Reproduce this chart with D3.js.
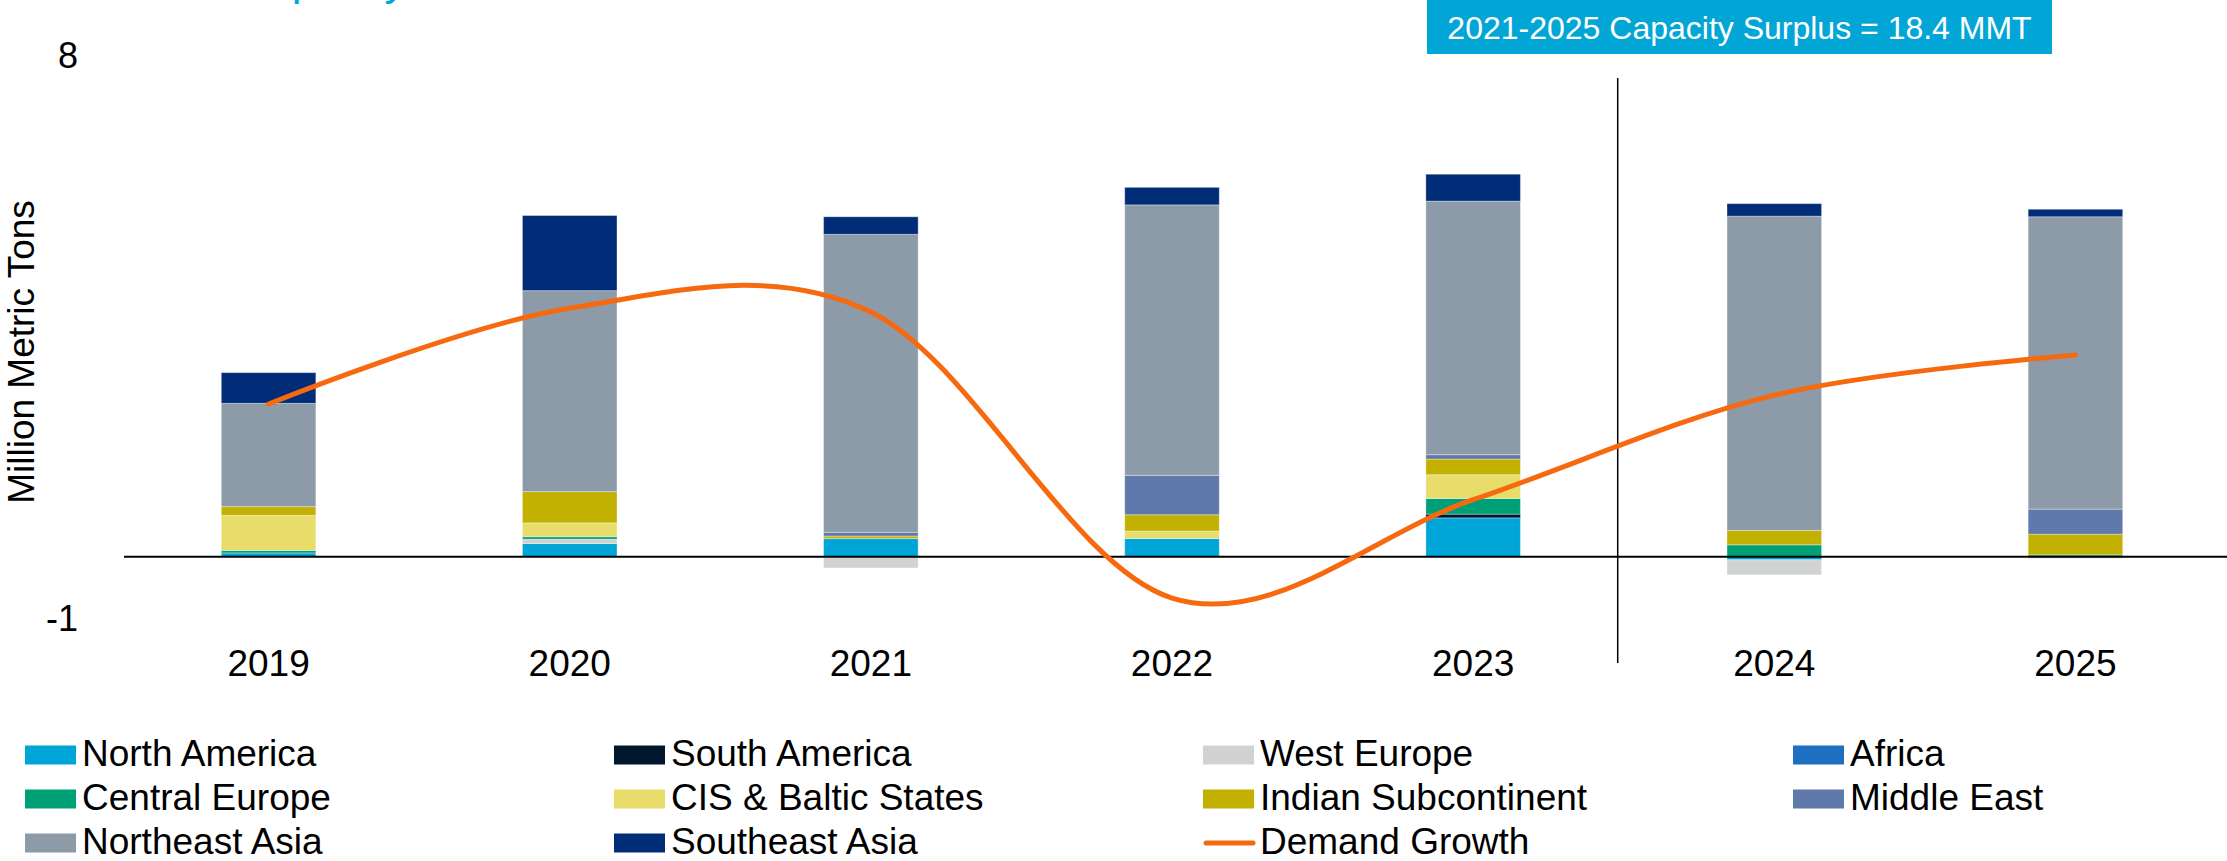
<!DOCTYPE html>
<html>
<head>
  <meta charset="utf-8">
  <title>Capacity Additions vs Demand Growth</title>
  <script src="https://d3js.org/d3.v7.min.js"></script>
  <style>
    body { margin: 0; background: #ffffff; }
    text { font-family: "Liberation Sans", Arial, sans-serif; }
  </style>
</head>
<body>
<div id="chart"></div>
<script>

  /* Data, million metric tons */
  var years = ["2019", "2020", "2021", "2022", "2023", "2024", "2025"];
  var northAmerica  = [0.06, 0.21, 0.29, 0.29, 0.62, -0.05, 0];
  var southAmerica  = [0, 0, 0, 0, 0.06, 0, 0];
  var westEurope    = [0, 0.07, -0.18, 0, 0, -0.24, -0.03];
  var africa        = [0, 0, 0, 0, 0, 0, 0];
  var centralEurope = [0.04, 0.04, 0, 0, 0.25, 0.19, 0.03];
  var cisBaltic     = [0.56, 0.22, 0, 0.12, 0.38, 0, 0];
  var indianSub     = [0.14, 0.50, 0.04, 0.26, 0.25, 0.23, 0.33];
  var middleEast    = [0, 0, 0.06, 0.63, 0.07, 0, 0.40];
  var northeastAsia = [1.65, 3.21, 4.76, 4.32, 4.05, 5.02, 4.67];
  var southeastAsia = [0.49, 1.20, 0.28, 0.28, 0.43, 0.20, 0.12];
  var demandGrowth  = [2.44, 3.97, 3.91, -0.66, 0.91, 2.58, 3.22];
  var yTicks = [-1, 8];

  var regionNames = ["North America", "South America", "West Europe", "Africa",
                     "Central Europe", "CIS & Baltic States", "Indian Subcontinent", "Middle East",
                     "Northeast Asia", "Southeast Asia"];
  var regionValues = [northAmerica, southAmerica, westEurope, africa, centralEurope,
                      cisBaltic, indianSub, middleEast, northeastAsia, southeastAsia];
  var colors = ["#00a5d7", "#00172d", "#d1d3d2", "#1e6fc0", "#00a077",
                "#e8dc6b", "#c2b100", "#5e79aa", "#8c9ba7", "#002c78"];
  var lineColor = "#f7690f";
  var boxColor = "#02a6d6";

  var width = 2227, height = 861;

  /* Build rows for d3.stack */
  var rows = years.map(function (yr, i) {
    var r = { year: yr };
    regionNames.forEach(function (name, k) { r[name] = regionValues[k][i]; });
    return r;
  });

  var svg = d3.select("#chart").append("svg")
    .attr("width", width)
    .attr("height", height);

  var x = d3.scaleBand().domain(years).range([118, 2226]);
  var y = d3.scaleLinear().domain([-1, 8]).range([619.3, 55.9]);
  var barW = x.bandwidth() * 0.314;

  /* Title, cut off by the top edge */
  svg.append("text")
    .attr("x", 96)
    .attr("y", -5)
    .style("font-size", "44px")
    .style("fill", boxColor)
    .text("Global Capacity Additions");

  /* Stacked bars */
  var series = d3.stack()
    .keys(regionNames)
    .offset(d3.stackOffsetDiverging)(rows);

  svg.append("g").selectAll("g")
    .data(series)
    .join("g")
    .attr("fill", function (d, i) { return colors[i]; })
    .selectAll("rect")
    .data(function (d) { return d; })
    .join("rect")
    .attr("x", function (d) { return x(d.data.year) + (x.bandwidth() - barW) / 2; })
    .attr("y", function (d) { return y(Math.max(d[0], d[1])); })
    .attr("width", barW)
    .attr("height", function (d) { return Math.abs(y(d[0]) - y(d[1])); })
    .attr("stroke", "rgba(255,255,255,0.35)")
    .attr("stroke-width", 1);

  /* Zero line */
  svg.append("line")
    .attr("x1", 124).attr("x2", width)
    .attr("y1", y(0)).attr("y2", y(0))
    .attr("stroke", "#000").attr("stroke-width", 2);

  /* Divider between actual and forecast */
  svg.append("line")
    .attr("x1", x("2024") - 6).attr("x2", x("2024") - 6)
    .attr("y1", 78).attr("y2", 663)
    .attr("stroke", "#000").attr("stroke-width", 1.5);

  /* Demand growth line, smoothed */
  var line = d3.line()
    .x(function (d, i) { return x(years[i]) + x.bandwidth() / 2; })
    .y(function (d) { return y(d); })
    .curve(d3.curveCardinal.tension(0));

  svg.append("path")
    .datum(demandGrowth)
    .attr("d", line)
    .attr("fill", "none")
    .attr("stroke", lineColor)
    .attr("stroke-width", 5)
    .attr("stroke-linecap", "round");

  /* Axes */
  var yAxis = svg.append("g")
    .attr("transform", "translate(80,0)")
    .call(d3.axisLeft(y).tickValues(yTicks).tickSize(0).tickPadding(2)
      .tickFormat(function (d) { return String(d); }));
  yAxis.select(".domain").remove();
  yAxis.selectAll("text")
    .style("font-size", "36px")
    .style("font-family", '"Liberation Sans", Arial, sans-serif')
    .attr("fill", "#000");

  var xAxis = svg.append("g")
    .attr("transform", "translate(0,650)")
    .call(d3.axisBottom(x).tickSize(0).tickPadding(0));
  xAxis.select(".domain").remove();
  xAxis.selectAll("text")
    .style("font-size", "37px")
    .style("font-family", '"Liberation Sans", Arial, sans-serif')
    .attr("fill", "#000");

  svg.append("text")
    .attr("transform", "translate(34,352) rotate(-90)")
    .attr("text-anchor", "middle")
    .style("font-size", "37px")
    .text("Million Metric Tons");

  /* Annotation box */
  svg.append("rect")
    .attr("x", 1427).attr("y", 0)
    .attr("width", 625).attr("height", 54)
    .attr("fill", boxColor);
  svg.append("text")
    .attr("x", 1739.5).attr("y", 39)
    .attr("text-anchor", "middle")
    .style("font-size", "32px")
    .style("fill", "#fff")
    .text("2021-2025 Capacity Surplus = 18.4 MMT");

  /* Legend */
  var colX = [25, 614, 1203, 1793];
  var rowY = [755, 799, 843];
  var legendItems = regionNames.concat(["Demand Growth"]);

  var legend = svg.append("g").selectAll("g")
    .data(legendItems)
    .join("g")
    .attr("transform", function (d, i) {
      return "translate(" + colX[i % 4] + "," + rowY[Math.floor(i / 4)] + ")";
    });

  legend.each(function (d, i) {
    var g = d3.select(this);
    if (i < regionNames.length) {
      g.append("rect")
        .attr("x", 0).attr("y", -9.5)
        .attr("width", 51).attr("height", 19)
        .attr("fill", colors[i]);
    } else {
      g.append("line")
        .attr("x1", 3).attr("x2", 50)
        .attr("y1", 0).attr("y2", 0)
        .attr("stroke", lineColor)
        .attr("stroke-width", 5)
        .attr("stroke-linecap", "round");
    }
    g.append("text")
      .attr("x", 57)
      .attr("y", 11)
      .style("font-size", "37px")
      .text(d);
  });

</script>
</body>
</html>
